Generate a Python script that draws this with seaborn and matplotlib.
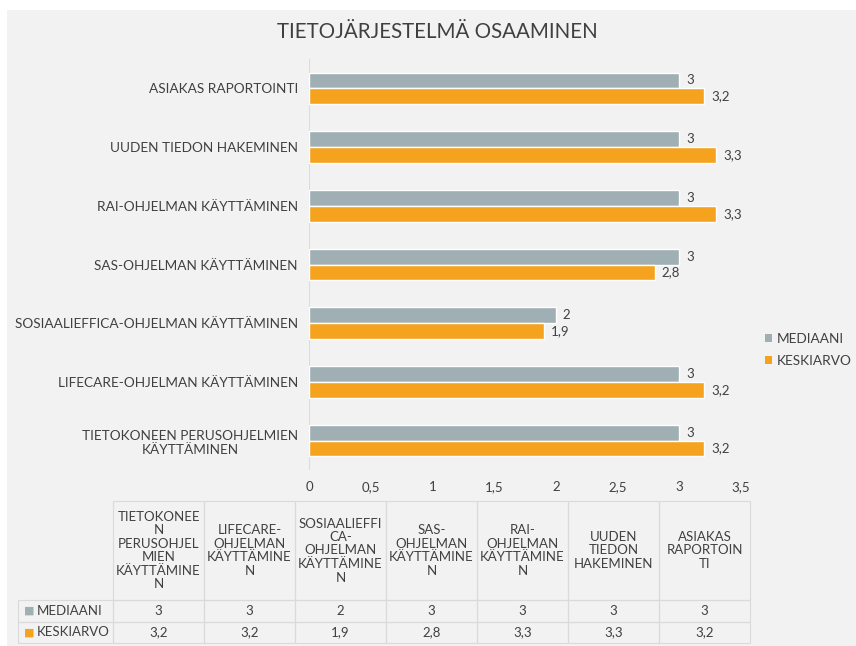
# -*- coding: utf-8 -*-
import numpy as np
import pandas as pd
import matplotlib.pyplot as plt
import seaborn as sns
from matplotlib.patches import Rectangle, Patch

# %% data
categories = ['TIETOKONEEN PERUSOHJELMIEN KÄYTTÄMINEN',
              'LIFECARE-OHJELMAN KÄYTTÄMINEN',
              'SOSIAALIEFFICA-OHJELMAN KÄYTTÄMINEN',
              'SAS-OHJELMAN KÄYTTÄMINEN',
              'RAI-OHJELMAN KÄYTTÄMINEN',
              'UUDEN TIEDON HAKEMINEN',
              'ASIAKAS RAPORTOINTI']
axis_labels = ['TIETOKONEEN PERUSOHJELMIEN\nKÄYTTÄMINEN',
               'LIFECARE-OHJELMAN KÄYTTÄMINEN',
               'SOSIAALIEFFICA-OHJELMAN KÄYTTÄMINEN',
               'SAS-OHJELMAN KÄYTTÄMINEN',
               'RAI-OHJELMAN KÄYTTÄMINEN',
               'UUDEN TIEDON HAKEMINEN',
               'ASIAKAS RAPORTOINTI']
table_headers = ['TIETOKONEE\nN\nPERUSOHJEL\nMIEN\nKÄYTTÄMINE\nN',
                 'LIFECARE-\nOHJELMAN\nKÄYTTÄMINE\nN',
                 'SOSIAALIEFFI\nCA-\nOHJELMAN\nKÄYTTÄMINE\nN',
                 'SAS-\nOHJELMAN\nKÄYTTÄMINE\nN',
                 'RAI-\nOHJELMAN\nKÄYTTÄMINE\nN',
                 'UUDEN\nTIEDON\nHAKEMINEN',
                 'ASIAKAS\nRAPORTOIN\nTI']
mediaani = [3, 3, 2, 3, 3, 3, 3]
keskiarvo = [3.2, 3.2, 1.9, 2.8, 3.3, 3.3, 3.2]
series = ['MEDIAANI', 'KESKIARVO']
xticks = [0, 0.5, 1, 1.5, 2, 2.5, 3, 3.5]

colors = ['#9fafb3', '#f5a31f']
txt = '#404040'
W, H = 856, 646


def fi(v):
    return ('%g' % v).replace('.', ',')


df = pd.DataFrame({'kategoria': categories * 2,
                   'sarja': [series[0]] * len(categories) + [series[1]] * len(categories),
                   'arvo': mediaani + keskiarvo})

# %% plot
sns.set_theme(style='white')
plt.rcParams['font.family'] = ['Lato', 'DejaVu Sans']
plt.rcParams['text.color'] = txt

fig = plt.figure(figsize=(W / 100, H / 100), dpi=100, facecolor='white')
fig.patches.append(Rectangle((7 / W, 0), 1, 1 - 10 / H, transform=fig.transFigure,
                             facecolor='#f2f2f2', edgecolor='none', zorder=-10))

ax = fig.add_axes([309 / W, 1 - 470 / H, 432 / W, 411 / H])
ax.set_facecolor('none')
order = categories[::-1]
sns.barplot(data=df, y='kategoria', x='arvo', hue='sarja', order=order,
            hue_order=series, palette=colors, saturation=1, width=0.54,
            orient='h', ax=ax, legend=False)

for cont in ax.containers:
    ax.bar_label(cont, labels=[fi(v) for v in cont.datavalues], padding=5,
                 fontsize=9.5, color=txt)

ax.set_yticks(range(len(order)), labels=axis_labels[::-1])
for t in ax.get_yticklabels():
    t.set_multialignment('center')
ax.set_xlim(0, 3.5)
ax.set_xticks(xticks, labels=[fi(v) for v in xticks])
ax.tick_params(axis='y', length=0, pad=8, labelsize=9.8, labelcolor=txt)
ax.tick_params(axis='x', length=0, pad=8, labelsize=9.5, labelcolor=txt)
ax.set_xlabel('')
ax.set_ylabel('')
for s in ax.spines.values():
    s.set_visible(False)
ax.axvline(0, color='#dcdcdc', lw=0.8, zorder=0)

fig.text(0.511, 0.950, 'TIETOJÄRJESTELMÄ OSAAMINEN', ha='center', va='center',
         fontsize=14.8, color=txt)

handles = [Patch(facecolor=c, edgecolor='none') for c in colors]
fig.legend(handles, series, loc='center left', bbox_to_anchor=(765 / W, 1 - 350 / H),
           frameon=False, handlelength=0.55, handleheight=0.55, handletextpad=0.35,
           labelspacing=0.75, fontsize=9.8, labelcolor=txt, borderaxespad=0,
           borderpad=0)

# %% data table
tax = fig.add_axes([18 / W, 1 - 643 / H, (750 - 18) / W, (643 - 501) / H])
tax.axis('off')
cell_text = [[series[0]] + [fi(v) for v in mediaani],
             [series[1]] + [fi(v) for v in keskiarvo]]
widths = np.array([95] + [91] * len(categories), dtype=float)
tbl = tax.table(cellText=cell_text, colLabels=[''] + table_headers,
                colWidths=list(widths / widths.sum()), cellLoc='center',
                colLoc='center', bbox=[0, 0, 1, 1])
tbl.auto_set_font_size(False)
tbl.set_fontsize(9.5)
for (r, c), cell in tbl.get_celld().items():
    cell.set_facecolor('none')
    cell.set_edgecolor('#dadada')
    cell.set_linewidth(0.8)
    cell.get_text().set_color(txt)
    cell.set_height(99 if r == 0 else 21.5)
    if r == 0:
        cell.get_text().set_linespacing(1.15)
    if r == 0 and c == 0:
        cell.visible_edges = ''
    if r > 0 and c == 0:
        cell._loc = 'left'
        cell.PAD = 0.2
        cell.get_text().set_ha('left')
        tax.annotate('■', xy=(0, 0.5), xycoords=cell.get_text(), xytext=(-2, 0),
                     textcoords='offset points', ha='right', va='center',
                     color=colors[r - 1], fontsize=8, family='DejaVu Sans')

plt.savefig('out.png', dpi=100, facecolor=fig.get_facecolor())
